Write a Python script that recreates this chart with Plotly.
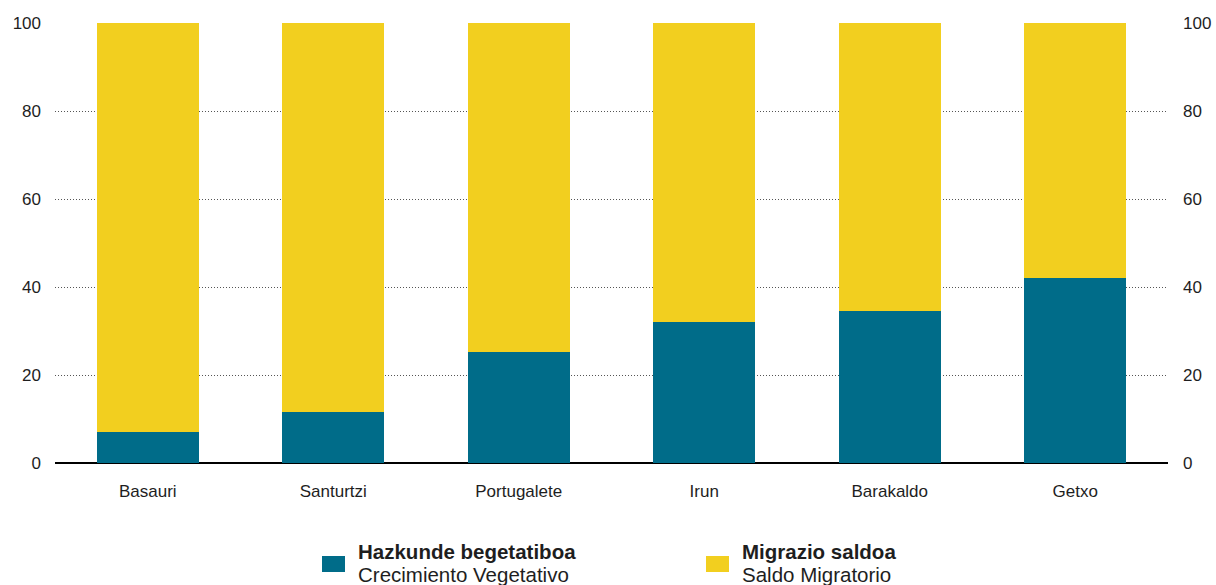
import plotly.graph_objects as go

categories = ["Basauri", "Santurtzi", "Portugalete", "Irun", "Barakaldo", "Getxo"]
crecimiento = [7.0, 11.7, 25.2, 32.0, 34.5, 42.0]
migratorio = [round(100 - v, 1) for v in crecimiento]
y_ticks = [0, 20, 40, 60, 80, 100]
series_titles = ["Hazkunde begetatiboa", "Migrazio saldoa"]
series_subtitles = ["Crecimiento Vegetativo", "Saldo Migratorio"]

BLUE = "#006C89"
YELLOW = "#F2CF1F"
TEXT = "#1E1E1E"
FONT = "Liberation Sans, Arial, sans-serif"

fig = go.Figure()
fig.add_trace(go.Bar(
    x=categories, y=crecimiento, marker_color=BLUE, marker_line_width=0,
    name=series_subtitles[0], showlegend=False,
))
fig.add_trace(go.Bar(
    x=categories, y=migratorio, marker_color=YELLOW, marker_line_width=0,
    name=series_subtitles[1], showlegend=False,
))
fig.add_trace(go.Scatter(
    x=categories, y=crecimiento, yaxis="y2", mode="markers",
    marker=dict(opacity=0), showlegend=False, hoverinfo="skip",
))

fig.update_layout(
    barmode="stack",
    bargap=0.45,
    width=1216, height=585,
    margin=dict(l=55, r=48, t=23, b=122),
    plot_bgcolor="white", paper_bgcolor="white",
    font=dict(family=FONT, color=TEXT, size=16),
    showlegend=False,
    xaxis=dict(
        showgrid=False, showline=False, zeroline=False, automargin=False,
        tickfont=dict(size=17, color=TEXT),
        ticks="", ticklabelstandoff=16,
    ),
    yaxis=dict(
        range=[0, 100], tickvals=y_ticks, showgrid=True, automargin=False,
        gridcolor="#555555", griddash="1px,2px", gridwidth=1,
        zeroline=True, zerolinecolor="#000000", zerolinewidth=2,
        showline=False, ticks="", ticklabelstandoff=13,
        tickfont=dict(size=17, color=TEXT),
    ),
    yaxis2=dict(
        range=[0, 100], tickvals=y_ticks, overlaying="y", side="right",
        showgrid=False, zeroline=False, showline=False, ticks="",
        automargin=False, ticklabelstandoff=14,
        tickfont=dict(size=17, color=TEXT),
    ),
)

# Manual legend (swatch + two-line label) below the plot
plot_l, plot_r, plot_t, plot_b = 55, 1168, 23, 463
def px_x(p):
    return (p - plot_l) / (plot_r - plot_l)
def px_y(p):
    return (plot_b - p) / (plot_b - plot_t)

legend_items = [(BLUE, 322), (YELLOW, 706)]
for i, (color, sx) in enumerate(legend_items):
    fig.add_shape(type="rect", xref="paper", yref="paper",
                  x0=px_x(sx), x1=px_x(sx + 23), y0=px_y(572), y1=px_y(556),
                  fillcolor=color, line_width=0)
    tx = px_x(sx + 34)
    fig.add_annotation(xref="paper", yref="paper", x=tx, y=px_y(551.5),
                       xanchor="left", yanchor="middle", showarrow=False,
                       text="<b>" + series_titles[i] + "</b>",
                       font=dict(size=20.5, color=TEXT, family=FONT))
    fig.add_annotation(xref="paper", yref="paper", x=tx, y=px_y(574.5),
                       xanchor="left", yanchor="middle", showarrow=False,
                       text=series_subtitles[i],
                       font=dict(size=20.5, color=TEXT, family=FONT))

fig.write_html(
    "out.html",
    config={"displayModeBar": False},
    post_script="document.body.style.margin='0';document.body.style.overflow='hidden';",
)
